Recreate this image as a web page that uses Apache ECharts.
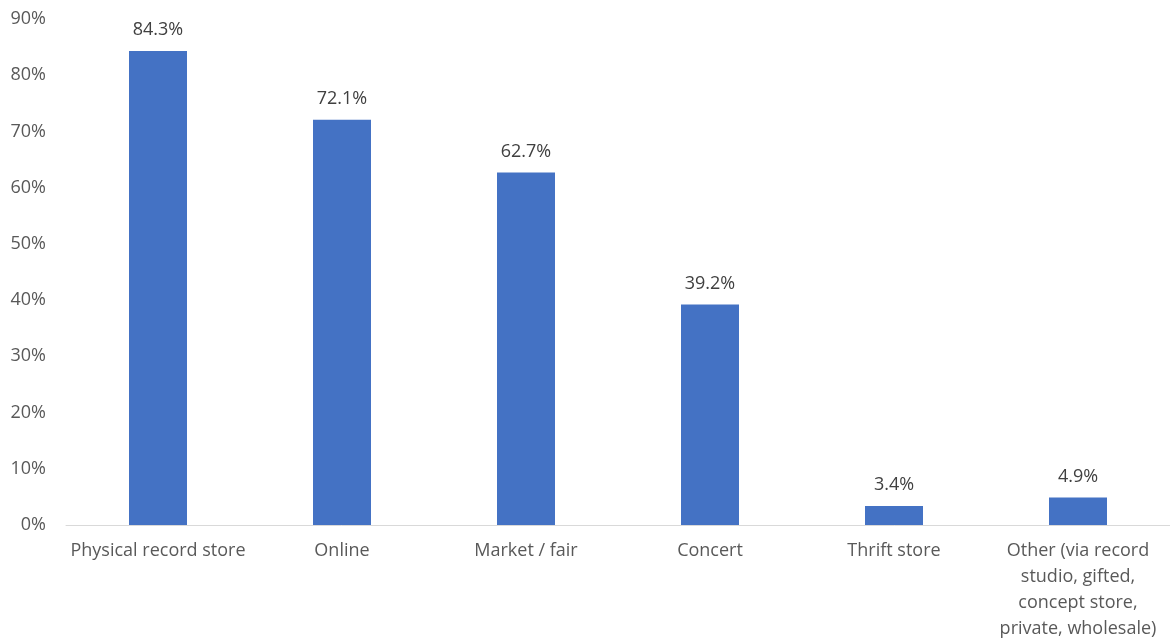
<!DOCTYPE html>
<html>
<head>
<meta charset="utf-8">
<script src="https://cdn.jsdelivr.net/npm/echarts@6/dist/echarts.min.js"></script>
<style>
  html, body { margin: 0; padding: 0; background: #ffffff; }
  #chart { width: 1170px; height: 642px; }
</style>
</head>
<body>
<div id="chart"></div>
<script>
// Where vinyl records are bought (share of respondents, %)
const categories = [
  'Physical record store',
  'Online',
  'Market / fair',
  'Concert',
  'Thrift store',
  'Other (via record\nstudio, gifted,\nconcept store,\nprivate, wholesale)'
];
const shares = [84.3, 72.1, 62.7, 39.2, 3.4, 4.9];
const yTicks = { min: 0, max: 90, step: 10 };

const FONT = '"Open Sans", "Noto Sans", sans-serif';
const chart = echarts.init(document.getElementById('chart'), null, { renderer: 'canvas' });

chart.setOption({
  animation: false,
  backgroundColor: '#ffffff',
  grid: { left: 66, right: -4, top: 19, bottom: 117, containLabel: false },
  xAxis: {
    type: 'category',
    data: categories,
    axisLine: { show: true, lineStyle: { color: '#d9d9d9', width: 1 } },
    axisTick: { show: false },
    axisLabel: {
      interval: 0,
      color: '#595959',
      fontFamily: FONT,
      fontSize: 18,
      lineHeight: 26,
      margin: 13,
      verticalAlign: 'top'
    }
  },
  yAxis: {
    type: 'value',
    min: yTicks.min,
    max: yTicks.max,
    interval: yTicks.step,
    axisLine: { show: false },
    axisTick: { show: false },
    splitLine: { show: false },
    axisLabel: {
      color: '#595959',
      fontFamily: FONT,
      fontSize: 18,
      margin: 20,
      formatter: v => v + '%'
    }
  },
  series: [{
    type: 'bar',
    data: shares,
    barWidth: 58,
    itemStyle: { color: '#4472C4' },
    label: {
      show: true,
      position: 'top',
      distance: 12,
      color: '#404040',
      fontFamily: FONT,
      fontSize: 18,
      formatter: p => p.value.toFixed(1) + '%'
    }
  }]
});
</script>
</body>
</html>
